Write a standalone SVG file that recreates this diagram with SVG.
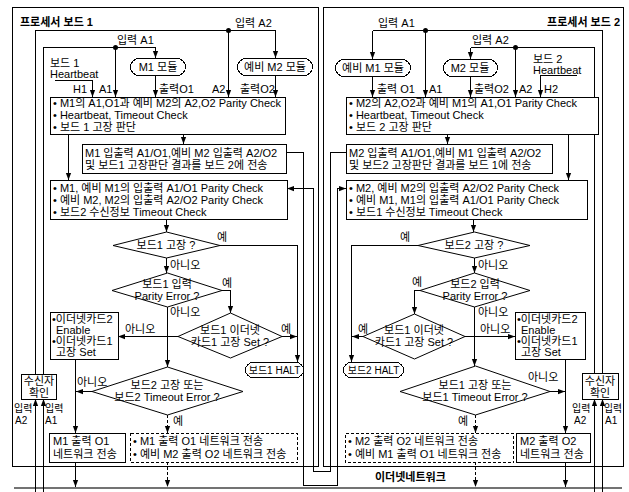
<svg xmlns="http://www.w3.org/2000/svg" width="629" height="492" viewBox="0 0 629 492">
<style>
text{font-family:"Liberation Sans","Noto Sans CJK KR",sans-serif;font-size:11px;fill:#000}
.b{font-weight:bold}
.c{text-anchor:middle}
.e{text-anchor:end}
.s{font-size:10px}
.box{fill:#fff;stroke:#000;stroke-width:1;shape-rendering:crispEdges}
.dbox{fill:#fff;stroke:#000;stroke-width:1;stroke-dasharray:3,2;shape-rendering:crispEdges}
.frame{fill:none;stroke:#000;stroke-width:1;shape-rendering:crispEdges}
.dia{fill:#fff;stroke:#000;stroke-width:1}
.ln{fill:none;stroke:#000;stroke-width:1;shape-rendering:crispEdges}
.ar{fill:none;stroke:#000;stroke-width:1;marker-end:url(#ah);shape-rendering:crispEdges}
.da{fill:none;stroke:#000;stroke-width:1;stroke-dasharray:3,2;marker-end:url(#ah);shape-rendering:crispEdges}
.dot{fill:#000}
.net{stroke:#444;stroke-width:1.5;fill:none}
</style>
<defs>
<marker id="ah" viewBox="0 0 8 8" refX="8" refY="4" markerWidth="7" markerHeight="7" orient="auto" markerUnits="userSpaceOnUse"><path d="M0,1 L8,4 L0,7 z" fill="#000"/></marker>
</defs>
<rect width="629" height="492" fill="#fff"/>

<!-- frames -->
<g id="board1-frame"><rect class="frame" x="12.5" y="7.5" width="306" height="459"/>
<text class="b" x="20" y="26">프로세서 보드 1</text></g>
<g id="board2-frame"><rect class="frame" x="323.5" y="7.5" width="300" height="459"/>
<text class="b e" x="620" y="26">프로세서 보드 2</text></g>

<g id="network"><line class="net" x1="14" y1="488" x2="622" y2="488"/>
<text class="b" x="375" y="481">이더넷네트워크</text></g>

<!-- connectors -->
<g id="connectors">
<path class="ln" d="M35.5,374 V30.5 H275.5"/>
<path class="ar" d="M275.5,30.5 V58"/>
<path class="ar" d="M228.5,30.5 V97"/>
<path class="ln" d="M43.5,374 V47.5 H155.5"/>
<path class="ar" d="M155.5,47.5 V58"/>
<path class="ar" d="M115.5,47.5 V97"/>
<path class="ar" d="M155.5,75 V97"/>
<path class="ar" d="M275.5,75 V97"/>
<path class="ar" d="M55,80.5 H92.5 V97"/>
<path class="ar" d="M183.5,135 V144"/>
<path class="ar" d="M68.5,135 V180"/>
<path class="ar" d="M166.5,220 V232"/>
<path class="ar" d="M220,245.5 H297.5 V362"/>
<path class="ar" d="M166.5,258 V273"/>
<path class="ar" d="M222,290.5 H230.5 V313"/>
<path class="ar" d="M167.5,307 V367"/>
<path class="ar" d="M282,336.5 H297"/>
<path class="ar" d="M178,336.5 H118"/>
<path class="ar" d="M75.5,359 V433"/>
<path class="ar" d="M92,391.5 H76"/>
<path class="da" d="M167.5,415 V433"/>
<path class="ar" d="M75.5,462 V487"/>
<path class="da" d="M167.5,462 V487"/>
<path class="ar" d="M35.5,492 V399"/>
<path class="ar" d="M43.5,492 V399"/>
<circle class="dot" cx="228.5" cy="30.5" r="2.5"/>
<circle class="dot" cx="115.5" cy="47.5" r="2.5"/>
<path class="ar" d="M286,152.5 H303.5 V485.5 H337.5 V188.5 H346"/>
<path class="ar" d="M346,152.5 H330.5 V471.5 H313.5 V188.5 H287"/>
<path class="ln" d="M602.5,373 V30.5 H372.5"/>
<path class="ar" d="M372.5,30.5 V59"/>
<path class="ar" d="M425.5,30.5 V97"/>
<path class="ln" d="M594.5,373 V47.5 H470.5"/>
<path class="ar" d="M470.5,47.5 V59"/>
<path class="ar" d="M515.5,47.5 V97"/>
<path class="ar" d="M372.5,76 V97"/>
<path class="ar" d="M470.5,76 V97"/>
<path class="ar" d="M577,75.5 H540.5 V97"/>
<path class="ar" d="M447.5,135 V144"/>
<path class="ar" d="M568.5,135 V180"/>
<path class="ar" d="M473.5,220 V232"/>
<path class="ar" d="M418,245.5 H351.5 V362"/>
<path class="ar" d="M474.5,258 V273"/>
<path class="ar" d="M420,290.5 H414.5 V314"/>
<path class="ar" d="M474.5,307 V366"/>
<path class="ar" d="M363,336.5 H352"/>
<path class="ar" d="M465,336.5 H515"/>
<path class="ar" d="M565.5,359 V433"/>
<path class="ar" d="M550,391.5 H565"/>
<path class="da" d="M475.5,415 V433"/>
<path class="ar" d="M565.5,462 V487"/>
<path class="da" d="M475.5,462 V487"/>
<path class="ar" d="M594.5,492 V399"/>
<path class="ar" d="M602.5,492 V399"/>
<circle class="dot" cx="425.5" cy="30.5" r="2.5"/>
<circle class="dot" cx="515.5" cy="47.5" r="2.5"/>
</g>

<g id="labels1">
<text x="235" y="27">입력 A2</text>
<text x="117" y="44">입력 A1</text>
<text x="50" y="67">보드 1</text>
<text x="50" y="78">Heartbeat</text>
<text x="73" y="93">H1</text>
<text x="99" y="93">A1</text>
<text x="159" y="93">출력O1</text>
<text x="212" y="93">A2</text>
<text x="240" y="93">출력O2</text>
<text x="217" y="241">예</text>
<text x="170" y="269">아니오</text>
<text x="222" y="287">예</text>
<text x="170" y="316">아니오</text>
<text x="281" y="333">예</text>
<text x="125" y="333">아니오</text>
<text x="77" y="386">아니오</text>
<text x="173" y="425">예</text>
<text class="s" x="14" y="412">입력</text>
<text class="s" x="15" y="424">A2</text>
<text class="s" x="45" y="412">입력</text>
<text class="s" x="45" y="424">A1</text>
</g>
<g id="labels2">
<text x="378" y="27">입력 A1</text>
<text x="472" y="44">입력 A2</text>
<text x="533" y="63">보드 2</text>
<text x="533" y="74">Heartbeat</text>
<text x="377" y="93">출력 O1</text>
<text x="429" y="93">A1</text>
<text x="474" y="93">출력O2</text>
<text x="519" y="93">A2</text>
<text x="544" y="93">H2</text>
<text x="400" y="241">예</text>
<text x="478" y="269">아니오</text>
<text x="412" y="286">예</text>
<text x="478" y="316">아니오</text>
<text x="358" y="333">예</text>
<text x="480" y="333">아니오</text>
<text x="528" y="381">아니오</text>
<text x="458" y="425">예</text>
<text class="s" x="572" y="412">입력</text>
<text class="s" x="574" y="424">A2</text>
<text class="s" x="604" y="412" textLength="18" lengthAdjust="spacingAndGlyphs">입력</text>
<text class="s" x="605" y="424">A1</text>
</g>

<g id="b1-m1"><rect class="box" x="130.5" y="58.5" width="55" height="17" rx="8.5"/><text class="c" x="158" y="71">M1 모듈</text></g>
<g id="b1-m2"><rect class="box" x="237.5" y="58.5" width="75" height="17" rx="8.5"/><text class="c" x="275" y="71">예비 M2 모듈</text></g>
<g id="b1-check1"><rect class="box" x="50.5" y="97.5" width="235" height="37"/>
<text x="53" y="107">• M1의 A1,O1과 예비 M2의 A2,O2 Parity Check</text>
<text x="53" y="119">• Heartbeat, Timeout Check</text>
<text x="53" y="131">• 보드 1 고장 판단</text></g>
<g id="b1-send"><rect class="box" x="82.5" y="144.5" width="204" height="29"/>
<text x="85" y="157">M1 입출력 A1/O1,예비 M2 입출력 A2/O2</text>
<text x="85" y="169">및 보드1 고장판단 결과를 보드 2에 전송</text></g>
<g id="b1-check2"><rect class="box" x="50.5" y="180.5" width="237" height="39"/>
<text x="53" y="192">• M1, 예비 M1의 입출력 A1/O1 Parity Check</text>
<text x="53" y="204">• 예비 M2, M2의 입출력 A2/O2 Parity Check</text>
<text x="53" y="216">• 보드2 수신정보 Timeout Check</text></g>
<g id="b1-d1"><polygon class="dia" points="166.5,232 220,245.5 166.5,258 113,245.5"/><text class="c" x="166" y="249">보드1 고장 ?</text></g>
<g id="b1-d2"><polygon class="dia" points="167.5,273 222,290.5 167.5,307 112,290.5"/><text class="c" x="167" y="288">보드1 입력</text><text class="c" x="167" y="300">Parity Error ?</text></g>
<g id="b1-d3"><polygon class="dia" points="230.5,313 282,336.5 230.5,358 178,336.5"/><text class="c" x="230" y="334">보드1 이더넷</text><text class="c" x="230" y="346">카드1 고장 Set ?</text></g>
<g id="b1-card"><rect class="box" x="50.5" y="312.5" width="68" height="47"/>
<text x="52" y="323">•이더넷카드2</text><text x="56" y="334">Enable</text><text x="52" y="345">•이더넷카드1</text><text x="56" y="356">고장 Set</text></g>
<g id="b1-halt"><rect class="box" x="245.5" y="362.5" width="58" height="15" rx="7.5"/><text class="c s" x="274.5" y="374">보드1 HALT</text></g>
<g id="b1-d4"><polygon class="dia" points="167.5,367 243,391.5 167.5,415 92,391.5"/><text class="c" x="167" y="389">보드2 고장 또는</text><text class="c" x="167" y="401">보드2 Timeout Error ?</text></g>
<g id="b1-recv"><rect class="box" x="21.5" y="374.5" width="35" height="25"/><text class="c" x="39" y="385">수신자</text><text class="c" x="39" y="397">확인</text></g>
<g id="b1-out"><rect class="box" x="49.5" y="433.5" width="76" height="29"/><text x="53" y="445">M1 출력 O1</text><text x="53" y="458">네트워크 전송</text></g>
<g id="b1-outdash"><rect class="dbox" x="130.5" y="433.5" width="167" height="29"/><text x="133" y="445">• M1 출력 O1 네트워크 전송</text><text x="133" y="458">• 예비 M2 출력 O2 네트워크 전송</text></g>

<g id="b2-m1"><rect class="box" x="335.5" y="59.5" width="75" height="17" rx="8.5"/><text class="c" x="373" y="72">예비 M1 모듈</text></g>
<g id="b2-m2"><rect class="box" x="443.5" y="59.5" width="54" height="17" rx="8.5"/><text class="c" x="470" y="72">M2 모듈</text></g>
<g id="b2-check1"><rect class="box" x="346.5" y="97.5" width="252" height="37"/>
<text x="349" y="107">• M2의 A2,O2과 예비 M1의 A1,O1 Parity Check</text>
<text x="349" y="119">• Heartbeat, Timeout Check</text>
<text x="349" y="131">• 보드 2 고장 판단</text></g>
<g id="b2-send"><rect class="box" x="346.5" y="144.5" width="206" height="29"/>
<text x="349" y="157">M2 입출력 A1/O1,예비 M1 입출력 A2/O2</text>
<text x="349" y="169">및 보드2 고장판단 결과를 보드 1에 전송</text></g>
<g id="b2-check2"><rect class="box" x="346.5" y="180.5" width="241" height="39"/>
<text x="349" y="192">• M2, 예비 M2의 입출력 A2/O2 Parity Check</text>
<text x="349" y="204">• 예비 M1, M1의 입출력 A1/O1 Parity Check</text>
<text x="349" y="216">• 보드1 수신정보 Timeout Check</text></g>
<g id="b2-d1"><polygon class="dia" points="474.5,232 530,245.5 474.5,258 418,245.5"/><text class="c" x="474" y="249">보드2 고장 ?</text></g>
<g id="b2-d2"><polygon class="dia" points="474.5,273 530,290.5 474.5,307 420,290.5"/><text class="c" x="475" y="288">보드2 입력</text><text class="c" x="475" y="300">Parity Error ?</text></g>
<g id="b2-d3"><polygon class="dia" points="414.5,314 465,336.5 414.5,359 363,336.5"/><text class="c" x="414" y="334">보드1 이더넷</text><text class="c" x="414" y="346">카드1 고장 Set ?</text></g>
<g id="b2-card"><rect class="box" x="515.5" y="312.5" width="70" height="47"/>
<text x="517" y="323">•이더넷카드2</text><text x="521" y="334">Enable</text><text x="517" y="345">•이더넷카드1</text><text x="521" y="356">고장 Set</text></g>
<g id="b2-halt"><rect class="box" x="343.5" y="362.5" width="60" height="15" rx="7.5"/><text class="c s" x="373.5" y="374">보드2 HALT</text></g>
<g id="b2-d4"><polygon class="dia" points="475.5,366 550,391.5 475.5,415 400,391.5"/><text class="c" x="475" y="389">보드1 고장 또는</text><text class="c" x="475" y="401">보드1 Timeout Error ?</text></g>
<g id="b2-recv"><rect class="box" x="582.5" y="373.5" width="36" height="26"/><text class="c" x="600" y="385">수신자</text><text class="c" x="600" y="397">확인</text></g>
<g id="b2-outdash"><rect class="dbox" x="345.5" y="433.5" width="168" height="29"/><text x="348" y="445">• M2 출력 O2 네트워크 전송</text><text x="348" y="458">• 예비 M1 출력 O1 네트워크 전송</text></g>
<g id="b2-out"><rect class="box" x="516.5" y="433.5" width="74" height="29"/><text x="520" y="445">M2 출력 O2</text><text x="520" y="458">네트워크 전송</text></g>
</svg>
